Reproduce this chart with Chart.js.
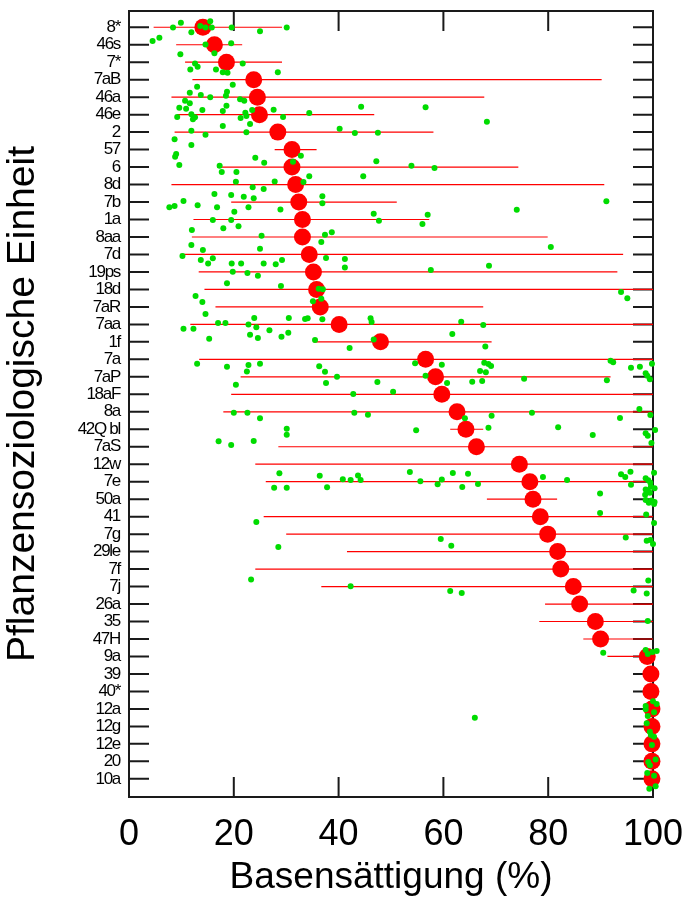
<!DOCTYPE html>
<html>
<head>
<meta charset="utf-8">
<script src="https://cdn.jsdelivr.net/npm/chart.js@4.4.0/dist/chart.umd.min.js"></script>
<style>
  html, body { margin: 0; padding: 0; background: #fff; }
  canvas { display: block; }
</style>
</head>
<body>
<canvas id="chart" width="688" height="901"></canvas>
<script>
// === Data ===
const categories = ["8*", "46s", "7*", "7aB", "46a", "46e", "2", "57", "6", "8d", "7b", "1a",
  "8aa", "7d", "19ps", "18d", "7aR", "7aa", "1f", "7a", "7aP", "18aF", "8a", "42Q bl", "7aS",
  "12w", "7e", "50a", "41", "7g", "29le", "7f", "7j", "26a", "35", "47H", "9a", "39", "40*",
  "12a", "12g", "12e", "20", "10a"];

// median per unit (big red dots)
const medians = [14.1, 16.3, 18.6, 23.8, 24.5, 24.9, 28.4, 31.1, 31.1, 31.8, 32.4, 33.1,
  33.1, 34.4, 35.2, 35.8, 36.5, 40.1, 48.0, 56.6, 58.5, 59.7, 62.6, 64.3, 66.3,
  74.5, 76.5, 77.1, 78.5, 79.9, 81.8, 82.4, 84.8, 86.0, 89.0, 90.0, 98.9, 99.6, 99.6,
  99.8, 99.8, 99.8, 99.8, 99.8];

// range per unit (red lines)
const rangeMin = [4.7, 9.0, 10.7, 12.1, 8.1, 9.2, 8.7, 27.8, 16.8, 8.1, 19.5, 12.3,
  12.0, 9.8, 13.3, 14.4, 16.5, 11.7, 35.2, 13.4, 21.3, 19.5, 18.0, 61.3, 28.5,
  24.1, 26.1, 68.3, 25.7, 30.0, 41.6, 24.1, 36.7, 79.4, 78.3, 86.7, 91.3, 99, 99,
  99, 99, 99, 99, 99];
const rangeMax = [29.2, 21.6, 29.2, 90.2, 67.8, 46.8, 58.1, 35.8, 74.3, 90.7, 51.1, 57.3,
  79.9, 94.3, 93.2, 100, 67.6, 100, 69.2, 100, 91.9, 100, 100, 67.6, 100,
  100, 100, 81.7, 100, 100, 100, 100, 100, 100, 100, 100, 100, 100, 100,
  100, 100, 100, 100, 100];

// single plots (green): [Basensaettigung, row position]
const greenPts = [
  [9.9, -0.26], [8.4, 0.01], [15.5, -0.34], [13.6, -0.07], [14.6, 0.01], [15.8, 0.01], [19.6, 0.01],
  [11.9, 0.29], [25.0, 0.23], [30.1, 0.01], [5.8, 0.60], [4.5, 0.79],
  [14.6, 0.98], [19.5, 0.92], [9.8, 1.55], [16.3, 1.49],
  [12.6, 2.07], [13.1, 2.26], [21.7, 2.07], [11.7, 2.41], [16.6, 2.41], [17.9, 2.58], [18.8, 2.60], [28.4, 2.58],
  [19.8, 3.29], [13.0, 3.40], [11.6, 3.75], [18.7, 3.69], [18.5, 3.92], [13.7, 3.88],
  [15.5, 4.01], [10.7, 4.20], [11.6, 4.35], [21.2, 4.12], [22.0, 4.20], [9.6, 4.61], [10.9, 4.66],
  [18.6, 4.49], [44.3, 4.55], [56.6, 4.58], [27.6, 4.72], [14.0, 4.74], [17.9, 4.79], [23.5, 4.74],
  [22.2, 4.89], [22.4, 5.08], [34.4, 4.91], [11.9, 4.98], [12.6, 5.15], [12.2, 5.27], [9.2, 5.14],
  [21.3, 5.19], [29.4, 5.14], [68.3, 5.41], [23.1, 5.54], [17.9, 5.65],
  [40.2, 5.81], [43.1, 6.05], [47.5, 6.04], [11.9, 5.92], [14.6, 6.15], [22.4, 6.01], [8.7, 6.41],
  [11.9, 6.74], [32.8, 7.35], [31.3, 7.69], [47.2, 7.67], [53.9, 7.92], [58.3, 8.05], [9.0, 7.25],
  [8.8, 7.41], [24.1, 7.47], [25.8, 7.75],
  [9.6, 7.88], [17.3, 7.92], [17.7, 8.28], [20.5, 8.28], [27.8, 8.82], [33.3, 8.86], [34.4, 8.53],
  [44.7, 8.53], [20.4, 8.84],
  [23.6, 9.16], [25.7, 9.26], [36.9, 9.67], [36.9, 10.07], [91.1, 9.96], [16.3, 9.54], [19.5, 9.60],
  [21.9, 9.70], [23.8, 9.79], [10.4, 9.94],
  [13.1, 10.19], [7.7, 10.30], [8.7, 10.23], [16.8, 10.30], [28.9, 10.43], [74.0, 10.44], [22.8, 10.30], [20.1, 10.56],
  [46.7, 10.67], [57.0, 10.73], [47.7, 11.07], [56.0, 11.26], [16.0, 11.03], [19.5, 11.03], [18.0, 11.50],
  [20.9, 11.39], [12.0, 11.60],
  [37.4, 11.87], [38.7, 11.73], [36.7, 12.29], [25.3, 11.93], [80.5, 12.57], [11.9, 12.46], [14.1, 12.75], [25.0, 12.67],
  [10.2, 13.09], [13.7, 13.32], [16.0, 13.22], [15.1, 13.51], [19.6, 13.51], [21.4, 13.51], [25.7, 13.51],
  [28.0, 13.56], [29.2, 13.32], [37.6, 13.20], [41.2, 13.26], [41.2, 13.74], [57.6, 13.89], [68.7, 13.64],
  [19.8, 13.99], [22.6, 14.06], [24.6, 14.22], [18.7, 14.65], [29.0, 14.81], [36.2, 14.96], [37.0, 14.99],
  [93.9, 15.15], [95.1, 15.51], [36.7, 15.53], [35.1, 15.68],
  [12.7, 15.38], [14.0, 15.72], [14.6, 16.41], [30.5, 16.64], [33.6, 16.69], [34.1, 16.65], [36.9, 16.71],
  [46.1, 16.65], [46.3, 16.86], [63.4, 16.85], [67.6, 17.04], [23.9, 16.64], [17.0, 16.92], [18.4, 16.92],
  [22.8, 17.00], [24.3, 17.17], [10.4, 17.25], [12.3, 17.25], [26.8, 17.34], [29.1, 17.71], [30.4, 17.48],
  [61.7, 17.55], [23.1, 17.59], [24.6, 17.78], [15.3, 17.82], [35.5, 17.89], [46.7, 17.86], [42.1, 18.35], [68.0, 18.26],
  [54.6, 19.23], [59.7, 19.31], [67.8, 19.19], [68.6, 19.27], [69.1, 19.38], [91.9, 19.08], [92.4, 19.17],
  [95.8, 19.48], [97.5, 19.42], [99.8, 19.25], [13.0, 19.25], [18.7, 19.42], [22.8, 19.33], [25.0, 19.25], [36.3, 19.40],
  [22.5, 19.69], [37.4, 19.71], [39.7, 19.99], [56.6, 19.94], [67.0, 19.67], [68.1, 19.74], [98.6, 19.80],
  [98.9, 19.94], [99.4, 20.14], [67.4, 20.24], [65.5, 20.28], [75.4, 20.11], [91.2, 20.20], [37.6, 20.35],
  [47.4, 20.30], [60.7, 20.35], [20.4, 20.45],
  [42.8, 20.98], [50.4, 20.85],
  [20.0, 22.06], [22.6, 22.05], [25.0, 22.37], [43.0, 22.05], [45.6, 22.17], [64.1, 22.37], [69.2, 22.23],
  [76.9, 22.05], [93.7, 22.36], [97.4, 21.84], [99.5, 22.19],
  [30.1, 22.97], [30.1, 23.31], [54.8, 23.06], [68.6, 22.91], [81.9, 22.89], [88.5, 23.33], [98.6, 23.23],
  [99.0, 23.37], [100.4, 23.04], [99.7, 23.79],
  [17.1, 23.69], [19.5, 23.90], [23.8, 23.67],
  [28.7, 25.52], [27.7, 26.34], [30.1, 26.34], [36.4, 25.66], [37.8, 26.32], [40.8, 25.86], [42.3, 25.90],
  [43.7, 25.64], [44.2, 25.90], [53.6, 25.45], [55.6, 25.98], [58.9, 26.15], [59.7, 25.87], [61.8, 25.50],
  [64.7, 25.54], [63.6, 26.30], [66.6, 26.13], [79.0, 25.73], [83.6, 25.90], [93.9, 25.58], [94.7, 25.73],
  [95.7, 25.43], [95.8, 26.17], [100.2, 25.49], [98.6, 25.81], [99.1, 25.92], [99.5, 26.06],
  [98.6, 26.44], [99.0, 26.52], [100.3, 26.38], [99.6, 26.29], [98.5, 26.74], [99.4, 26.63], [98.6, 27.05],
  [99.2, 27.20], [99.7, 27.07], [100.2, 27.28], [100.3, 27.16], [89.9, 26.67],
  [89.9, 27.79], [98.7, 27.87], [100.2, 28.36], [24.3, 28.31],
  [59.5, 29.28], [61.5, 29.66], [94.8, 29.19], [98.8, 29.38], [99.5, 29.34], [100.0, 29.57], [100.9, 29.93], [28.5, 29.74],
  [23.3, 31.60], [42.3, 31.98], [99.1, 31.66], [101.1, 31.89], [61.3, 32.25], [63.5, 32.37], [96.3, 32.22],
  [98.8, 32.39], [100.9, 32.22], [100.9, 32.33],
  [99.0, 33.97],
  [100.8, 35.11],
  [90.5, 35.78], [98.6, 35.63], [99.0, 35.86], [99.9, 35.74], [100.7, 35.69],
  [98.6, 38.83], [98.6, 39.02], [100.0, 38.56], [100.7, 38.72], [101.1, 38.64], [100.2, 39.19], [99.0, 39.40],
  [98.8, 39.82], [66.0, 39.50],
  [99.4, 40.30], [99.6, 40.49], [100.2, 40.59], [99.8, 41.06],
  [100.5, 41.90], [99.1, 42.04], [99.4, 42.23], [98.9, 42.67], [100.2, 42.82],
  [99.3, 43.57], [100.5, 43.43]
];

const xTickValues = [0, 20, 40, 60, 80, 100];

// === Look ===
const FONT = '"Liberation Sans", Arial, sans-serif';
const TICK_LEN = 20;
Chart.defaults.font.family = FONT;
Chart.defaults.color = "#000";

// === Build datasets ===
const rangeLines = [];
categories.forEach((c, i) => {
  rangeLines.push({ x: rangeMin[i], y: i }, { x: rangeMax[i], y: i }, { x: null, y: null });
});

// frame with inward ticks on all four sides
const framePlugin = {
  id: "frame",
  beforeDatasetsDraw(chart) {
    const { ctx, chartArea: a, scales } = chart;
    ctx.save();
    ctx.strokeStyle = "#1a1a1a";
    ctx.lineWidth = 2;
    ctx.strokeRect(a.left, a.top, a.right - a.left, a.bottom - a.top);
    ctx.beginPath();
    xTickValues.forEach((v) => {
      const px = scales.x.getPixelForValue(v);
      ctx.moveTo(px, a.top);
      ctx.lineTo(px, a.top + TICK_LEN);
      ctx.moveTo(px, a.bottom);
      ctx.lineTo(px, a.bottom - TICK_LEN);
    });
    categories.forEach((c, i) => {
      const py = scales.y.getPixelForValue(i);
      ctx.moveTo(a.left, py);
      ctx.lineTo(a.left + TICK_LEN, py);
      ctx.moveTo(a.right, py);
      ctx.lineTo(a.right - TICK_LEN, py);
    });
    ctx.stroke();
    ctx.restore();
  },
};

// unit labels on the left are set tighter than normal
const tightLabels = {
  id: "tightLabels",
  beforeDraw(chart) {
    const s = chart.scales.y;
    if (s._tight) return;
    const orig = s.drawLabels;
    s.drawLabels = function (area) {
      this.ctx.save();
      this.ctx.letterSpacing = "-1.3px";
      orig.call(this, area);
      this.ctx.restore();
    };
    s._tight = true;
  },
};

new Chart(document.getElementById("chart"), {
  type: "scatter",
  data: {
    datasets: [
      {
        label: "Einzelwerte",
        data: greenPts.map((p) => ({ x: p[0], y: p[1] })),
        backgroundColor: "#00dc00",
        borderWidth: 0,
        pointRadius: 3,
        clip: false,
        order: 0,
      },
      {
        label: "Median",
        data: medians.map((v, i) => ({ x: v, y: i })),
        backgroundColor: "#ff0000",
        borderWidth: 0,
        pointRadius: 8.5,
        clip: false,
        order: 1,
      },
      {
        label: "Spannweite",
        data: rangeLines,
        showLine: true,
        spanGaps: false,
        borderColor: "#ff0000",
        borderWidth: 1.2,
        pointRadius: 0,
        clip: false,
        order: 2,
      },
    ],
  },
  options: {
    responsive: false,
    animation: false,
    events: [],
    devicePixelRatio: 1,
    layout: { padding: { top: 11, right: 35, left: 0, bottom: 0 } },
    plugins: {
      legend: { display: false },
      tooltip: { enabled: false },
    },
    scales: {
      x: {
        type: "linear",
        position: "bottom",
        min: 0,
        max: 100,
        grid: { display: false },
        border: { display: false },
        afterBuildTicks: (s) => {
          s.ticks = xTickValues.map((v) => ({ value: v }));
        },
        ticks: { font: { size: 36 }, padding: 8, maxRotation: 0 },
        title: {
          display: true,
          text: "Basensättigung (%)",
          font: { size: 37 },
          padding: { top: 0, bottom: 1 },
        },
        afterFit: (s) => {
          s.height = 104;
          s.paddingLeft = 0;
          s.paddingRight = 0;
        },
      },
      y: {
        type: "linear",
        reverse: true,
        min: -0.93,
        max: 44.04,
        grid: { display: false },
        border: { display: false },
        afterBuildTicks: (s) => {
          s.ticks = categories.map((c, i) => ({ value: i }));
        },
        ticks: {
          autoSkip: false,
          font: { size: 17 },
          padding: 1,
          callback: (v) => categories[v],
        },
        title: {
          display: true,
          text: "Pflanzensoziologische Einheit",
          font: { size: 39 },
          padding: 0,
        },
        afterFit: (s) => {
          s.width = 129;
          s.paddingTop = 0;
          s.paddingBottom = 0;
        },
      },
    },
  },
  plugins: [framePlugin, tightLabels],
});
</script>
</body>
</html>
